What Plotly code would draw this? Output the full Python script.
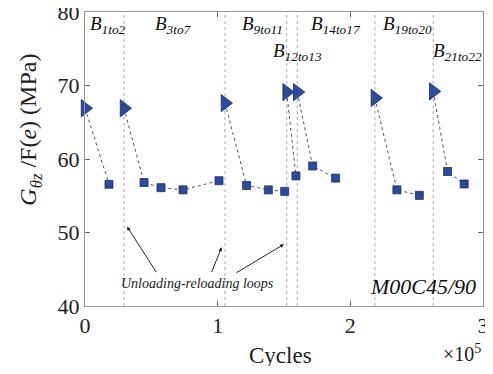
import plotly.graph_objects as go

# ---- data ----
block_names = ["1to2", "3to7", "9to11", "12to13", "14to17", "19to20", "21to22"]
tri_x = [0.0, 0.294, 1.055, 1.52, 1.60, 2.185, 2.625]
tri_y = [66.9, 66.9, 67.6, 69.1, 69.1, 68.3, 69.2]
sq_x = [[0.181], [0.445, 0.573, 0.739, 1.01], [1.218, 1.382, 1.505], [1.59],
        [1.716, 1.889], [2.351, 2.52], [2.733, 2.858]]
sq_y = [[56.56], [56.8, 56.1, 55.8, 57.05], [56.4, 55.8, 55.6], [57.7],
        [59.05, 57.4], [55.8, 55.05], [58.3, 56.6]]
label_x = [0.02, 0.51, 1.17, 1.40, 1.69, 2.23, 2.61]
label_y = [78.2, 78.2, 78.2, 74.6, 78.2, 78.2, 74.6]
x_ticks = [0, 1, 2, 3]
y_ticks = [40, 50, 60, 70, 80]

SERIF = "Liberation Serif"
MARK = "#2d4b9c"
fig = go.Figure()

# dotted connectors per block
for i in range(len(block_names)):
    fig.add_trace(go.Scatter(x=[tri_x[i]] + sq_x[i], y=[tri_y[i]] + sq_y[i],
                             mode="lines", line=dict(color="#555", width=1, dash="dot"),
                             showlegend=False, hoverinfo="skip", cliponaxis=False))

all_sx = [v for b in sq_x for v in b]
all_sy = [v for b in sq_y for v in b]
fig.add_trace(go.Scatter(x=all_sx, y=all_sy, mode="markers", cliponaxis=False,
                         marker=dict(symbol="square", size=8, color=MARK,
                                     line=dict(color="#1c2f6a", width=0.8)),
                         showlegend=False))
fig.add_trace(go.Scatter(x=tri_x, y=tri_y, mode="markers", cliponaxis=False,
                         marker=dict(symbol="triangle-right", size=15, color=MARK,
                                     line=dict(color="#1c2f6a", width=0.8)),
                         showlegend=False))

# vertical dotted boundaries
for xv in tri_x[1:]:
    fig.add_shape(type="line", xref="x", yref="y", x0=xv, x1=xv, y0=40, y1=80,
                  line=dict(color="#aaa", width=1, dash="dot"), layer="below")

annots = []
for name, lx, ly in zip(block_names, label_x, label_y):
    annots.append(dict(x=lx, y=ly, xref="x", yref="y", xanchor="left", yanchor="middle",
                       text="<i>B<sub>%s</sub></i>" % name, showarrow=False,
                       font=dict(family=SERIF, size=19, color="#111")))

annots.append(dict(x=0.26, y=43.0, xref="x", yref="y", xanchor="left", yanchor="middle",
                   text="<i>Unloading-reloading loops</i>", showarrow=False,
                   font=dict(family=SERIF, size=14, color="#222")))
annots.append(dict(x=2.96, y=42.6, xref="x", yref="y", xanchor="right", yanchor="middle",
                   text="<i>M00C45/90</i>", showarrow=False,
                   font=dict(family=SERIF, size=22, color="#111")))
# arrows
for (ax, ay, hx, hy) in [(0.545, 44.4, 0.317, 50.8), (0.95, 44.4, 1.03, 48.0),
                         (1.13, 44.4, 1.50, 48.4)]:
    annots.append(dict(x=hx, y=hy, ax=ax, ay=ay, xref="x", yref="y", axref="x", ayref="y",
                       showarrow=True, arrowhead=2, arrowsize=0.8, arrowwidth=1,
                       arrowcolor="#222", text=""))

annots.append(dict(x=-0.138, y=0.6, xref="paper", yref="paper", textangle=-90,
                   text="<i>G</i><sub><i>θz</i></sub> /F(<i>e</i>) (MPa)", showarrow=False,
                   xanchor="center", yanchor="middle",
                   font=dict(family=SERIF, size=24, color="#222")))
annots.append(dict(x=0.49, y=-0.167, xref="paper", yref="paper", xanchor="center", yanchor="middle",
                   text="Cycles", showarrow=False,
                   font=dict(family=SERIF, size=23, color="#222")))
annots.append(dict(x=1.0, y=-0.16, xref="paper", yref="paper", xanchor="right", yanchor="middle",
                   text="×10<sup>5</sup>", showarrow=False,
                   font=dict(family=SERIF, size=20, color="#222")))
fig.update_layout(
    width=485, height=358, margin=dict(l=77, r=10, t=4, b=60, autoexpand=False),
    paper_bgcolor="white", plot_bgcolor="white",
    annotations=annots,
    xaxis=dict(range=[0, 3], tickvals=x_ticks, ticktext=[str(t) for t in x_ticks],
               ticks="inside", ticklen=5, tickcolor="#666", showgrid=False, zeroline=False,
               showline=True, linecolor="#999", linewidth=1, mirror="ticks", automargin=False,
               ticklabeloverflow="allow",
               tickfont=dict(family=SERIF, size=22, color="#222")),
    yaxis=dict(range=[40, 80], tickvals=y_ticks, ticktext=[str(t) for t in y_ticks],
               ticks="inside", ticklen=5, tickcolor="#666", showgrid=False, zeroline=False,
               showline=True, linecolor="#999", linewidth=1, mirror="ticks", automargin=False,
               ticklabeloverflow="allow",
               tickfont=dict(family=SERIF, size=22, color="#222")),
)
fig.write_html("out.html")
